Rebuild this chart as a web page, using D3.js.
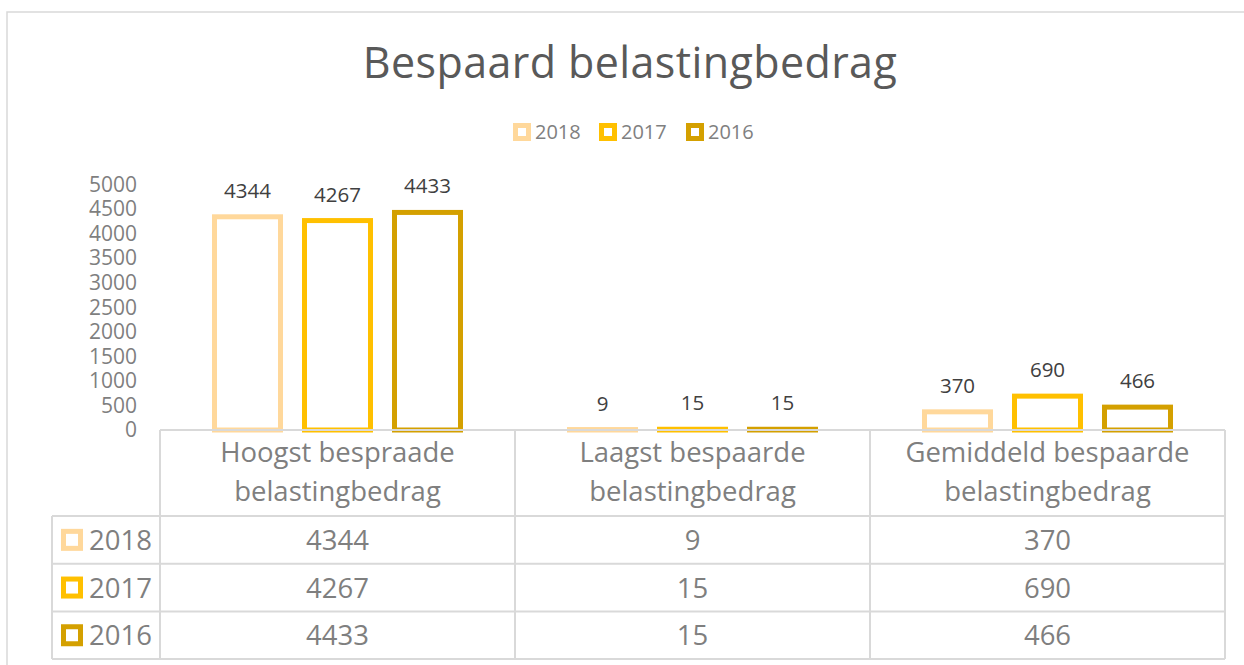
<!DOCTYPE html>
<html>
<head>
<meta charset="utf-8">
<script src="https://cdn.jsdelivr.net/npm/d3@7"></script>
<style>
  body { margin: 0; background: #fff; }
  text { font-family: "Open Sans", "Noto Sans", sans-serif; }
</style>
</head>
<body>
<div id="chart"></div>
<script>
const WIDTH = 1244, HEIGHT = 665;
const categories = [["Hoogst bespraade", "belastingbedrag"], ["Laagst bespaarde", "belastingbedrag"], ["Gemiddeld bespaarde", "belastingbedrag"]];
const years = ["2018", "2017", "2016"];
const colors = ["#FFD89B", "#FFC000", "#D4A000"];
const values2018 = [4344, 9, 370];
const values2017 = [4267, 15, 690];
const values2016 = [4433, 15, 466];
const yTicks = [0, 500, 1000, 1500, 2000, 2500, 3000, 3500, 4000, 4500, 5000];
const series = [values2018, values2017, values2016];

const PLOT_LEFT = 160, PLOT_RIGHT = 1225, AXIS_Y = 430, TOP_Y = 184.6;
const ROW_H = 47.7, HEAD_BOT = 516, TABLE_LEFT = 52;
const GRID = "#d9d9d9";

const svg = d3.select("#chart").append("svg")
  .attr("width", WIDTH).attr("height", HEIGHT);

// chart frame (runs off the right and bottom edge)
svg.append("rect").attr("x", 7).attr("y", 12).attr("width", 1250).attr("height", 670)
  .attr("fill", "none").attr("stroke", GRID).attr("stroke-width", 1.5);

svg.append("text").attr("x", 630).attr("y", 78).attr("text-anchor", "middle")
  .attr("font-size", 43).attr("fill", "#595959").attr("letter-spacing", 0.4)
  .text("Bespaard belastingbedrag");

// legend
const legendX = [513, 599, 686];
const legend = svg.append("g");
years.forEach((yr, i) => {
  legend.append("rect").attr("x", legendX[i] + 2.5).attr("y", 125.5).attr("width", 13).attr("height", 13)
    .attr("fill", "#fff").attr("stroke", colors[i]).attr("stroke-width", 5);
  legend.append("text").attr("x", legendX[i] + 22).attr("y", 139)
    .attr("font-size", 20).attr("fill", "#808080").text(yr);
});

const x0 = d3.scaleBand().domain(d3.range(categories.length)).range([PLOT_LEFT, PLOT_RIGHT]);
const x1 = d3.scaleBand().domain(d3.range(years.length)).range([0, x0.bandwidth()])
  .paddingInner(0.2667).paddingOuter(0.6055);
const y = d3.scaleLinear().domain([0, 5000]).range([AXIS_Y, TOP_Y]);

const yAxis = svg.append("g").attr("transform", `translate(${PLOT_LEFT},0)`)
  .call(d3.axisLeft(y).tickValues(yTicks).tickSize(0).tickPadding(23).tickFormat(d3.format("d")));
yAxis.select(".domain").remove();
yAxis.selectAll("text").attr("font-size", 21).attr("fill", "#7f7f7f")
  .attr("font-family", "'Open Sans', sans-serif");

// bars
series.forEach((vals, s) => {
  svg.append("g").selectAll("rect").data(vals).join("rect")
    .attr("x", (d, c) => x0(c) + x1(s))
    .attr("y", d => y(d))
    .attr("width", x1.bandwidth())
    .attr("height", d => y(0) - y(d))
    .attr("fill", "#fff")
    .attr("stroke", colors[s]).attr("stroke-width", 5);
  svg.append("g").selectAll("text").data(vals).join("text")
    .attr("x", (d, c) => x0(c) + x1(s) + x1.bandwidth() / 2)
    .attr("y", d => y(d) - 19)
    .attr("text-anchor", "middle").attr("font-size", 20.5).attr("fill", "#404040")
    .text(d => d);
});

// data table
const table = svg.append("g").attr("stroke", GRID).attr("stroke-width", 2);
const bottom = HEAD_BOT + ROW_H * years.length;
table.append("line").attr("x1", PLOT_LEFT).attr("x2", PLOT_RIGHT).attr("y1", AXIS_Y).attr("y2", AXIS_Y);
d3.range(years.length + 1).forEach(r => {
  const yy = HEAD_BOT + r * ROW_H;
  table.append("line").attr("x1", TABLE_LEFT).attr("x2", PLOT_RIGHT).attr("y1", yy).attr("y2", yy);
});
table.append("line").attr("x1", TABLE_LEFT).attr("x2", TABLE_LEFT).attr("y1", HEAD_BOT).attr("y2", bottom);
d3.range(categories.length + 1).forEach(c => {
  const xx = c < categories.length ? x0(c) : PLOT_RIGHT;
  table.append("line").attr("x1", xx).attr("x2", xx).attr("y1", AXIS_Y).attr("y2", bottom);
});

categories.forEach((lines, c) => {
  const cx = x0(c) + x0.bandwidth() / 2;
  lines.forEach((ln, k) => {
    svg.append("text").attr("x", cx).attr("y", 462 + k * 39)
      .attr("text-anchor", "middle").attr("font-size", 27.5).attr("fill", "#7f7f7f").text(ln);
  });
});

years.forEach((yr, r) => {
  const cy = HEAD_BOT + r * ROW_H + ROW_H / 2;
  svg.append("rect").attr("x", 63.5).attr("y", cy - 8.5).attr("width", 17).attr("height", 17)
    .attr("fill", "#fff").attr("stroke", colors[r]).attr("stroke-width", 5);
  svg.append("text").attr("x", 89).attr("y", cy + 10)
    .attr("font-size", 27.5).attr("fill", "#7f7f7f").text(yr);
  series[r].forEach((v, c) => {
    svg.append("text").attr("x", x0(c) + x0.bandwidth() / 2).attr("y", cy + 10)
      .attr("text-anchor", "middle").attr("font-size", 27.5).attr("fill", "#7f7f7f").text(v);
  });
});
</script>
</body>
</html>
